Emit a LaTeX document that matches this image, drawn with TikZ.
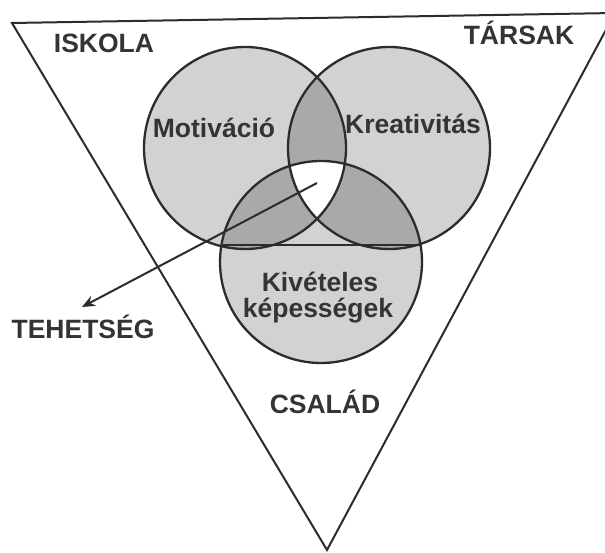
\documentclass[tikz,border=0pt]{standalone}
\usepackage{fontspec}
\setmainfont{Liberation Sans}
\usetikzlibrary{arrows.meta}
\definecolor{lightfill}{HTML}{D2D2D2}
\definecolor{darkfill}{HTML}{A9A9A9}
\definecolor{ink}{HTML}{2C2C2C}
\definecolor{txt}{HTML}{343434}
\begin{document}
\begin{tikzpicture}[x=1pt,y=-1pt,
  tri/.style={draw=ink, line width=2pt, line join=miter},
  circout/.style={draw=ink, line width=2.3pt},
  lbl/.style={font=\fontsize{26.5}{30}\selectfont\bfseries, text=txt, inner sep=0pt, anchor=base},
  arr/.style={draw=ink, line width=2pt, -{Stealth[length=13pt,width=11pt]}},
  venn/.style={circle, minimum size=202pt, inner sep=0pt}]
\useasboundingbox (0,0) rectangle (605,553);
\fill[white] (0,0) rectangle (605,553);
% triangle
\begin{scope}
\clip (0,0) rectangle (605,553);
\coordinate (tl) at (12,23);
\coordinate (tr) at (615,13);
\coordinate (bt) at (327,550);
\draw[tri] (tl) -- (tr) -- (bt) -- cycle;
\end{scope}
% circles
\node[venn] (mot) at (245,148) {};
\node[venn] (kre) at (389,148) {};
\node[venn] (kiv) at (321,262) {};
\def\cM{(245,148) circle[radius=101pt]}
\def\cK{(389,148) circle[radius=101pt]}
\def\cV{(321,262) circle[radius=101pt]}
\fill[lightfill] \cM; \fill[lightfill] \cK; \fill[lightfill] \cV;
\begin{scope}\clip \cM; \fill[darkfill] \cK; \end{scope}
\begin{scope}\clip \cM; \fill[darkfill] \cV; \end{scope}
\begin{scope}\clip \cK; \fill[darkfill] \cV; \end{scope}
\begin{scope}\clip \cM; \clip \cK; \fill[white] \cV; \end{scope}
\draw[circout] \cM; \draw[circout] \cK; \draw[circout] \cV;
\coordinate (chl) at (221.5,245);
\coordinate (chr) at (420.5,245);
\draw[ink, line width=1.8pt] (chl) -- (chr);
% arrow
\coordinate (core) at (317,183);
\coordinate (tip) at (82,307);
\draw[arr] (core) -- (tip);
% labels
\node[lbl] (iskola) at (104,53) {ISKOLA};
\node[lbl] (tarsak) at (519,45) {TÁRSAK};
\node[lbl] (tehetseg) at (83,338) {TEHETSÉG};
\node[lbl] (csalad) at (325,413) {CSALÁD};
\node[lbl] (motiv) at (214,138) {Motiváció};
\node[lbl] (kreat) at (413,134) {Kreativitás};
\node[lbl] (kivet) at (320,292) {Kivételes};
\node[lbl] (kepes) at (318,317) {képességek};
\end{tikzpicture}
\end{document}
